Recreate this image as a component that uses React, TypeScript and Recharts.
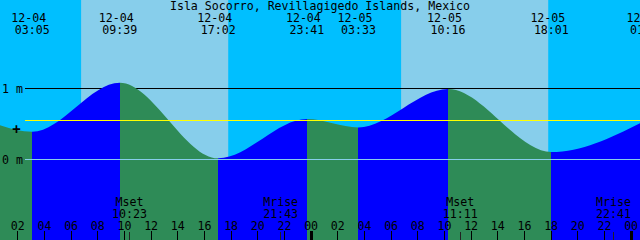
import React from 'react';
import { ComposedChart, Area, XAxis, YAxis, ReferenceArea, ReferenceLine } from 'recharts';

const TITLE = 'Isla Socorro, Revillagigedo Islands, Mexico';

// tide extremes (local time "MM-DD HH:MM") and heights in metres
const tideTimes = [
  '12-03 23:00',
  '12-04 03:05',
  '12-04 09:39',
  '12-04 17:02',
  '12-04 23:41',
  '12-05 03:33',
  '12-05 10:16',
  '12-05 18:01',
  '12-06 01:14',
];
const tideHeights = [0.6, 0.385, 1.075, 0.01, 0.563, 0.446, 0.986, 0.099, 0.56];
const labelledExtremes = [false, true, true, true, true, true, true, true, true];

const sunrises = ['12-04 06:45', '12-05 06:45'];
const sunsets = ['12-04 17:47', '12-05 17:47'];

const moonEvents = ['Mset', 'Mrise', 'Mset', 'Mrise'];
const moonTimes = ['12-04 10:23', '12-04 21:43', '12-05 11:11', '12-05 22:41'];

const hourTicks = [2, 4, 6, 8, 10, 12, 14, 16, 18, 20, 22, 24, 26, 28, 30, 32, 34, 36, 38, 40, 42, 44, 46, 48];
const viewStart = '12-04 00:40';
const viewEnd = '12-06 00:40';
const depthDomain = [-1.14, 2.24];
const depthMarks = [1, 0];
const depthLabels = ['1 m', '0 m'];
const meanLevel = 0.55;
const plusLevel = 0.42;

const NIGHT = '#00BFFF';
const DAY = '#87CEEB';
const RISE = '#0000FF';
const FALL = '#2E8B57';
const FONT = { fontFamily: '"DejaVu Sans Mono", monospace', fontSize: 11.6, fill: '#000' };

const toHours = (s: string) => {
  const [md, hm] = s.split(' ');
  const day = parseInt(md.split('-')[1], 10);
  const [h, m] = hm.split(':').map((v) => parseInt(v, 10));
  return (day - 4) * 24 + h + m / 60;
};

const data = tideTimes.map((s, i) => ({ t: toHours(s), h: tideHeights[i] }));
const tFirst = data[0].t;
const tLast = data[data.length - 1].t;

const gradientStops: { offset: number; color: string }[] = [];
for (let i = 0; i < data.length - 1; i++) {
  const color = data[i + 1].h > data[i].h ? RISE : FALL;
  gradientStops.push({ offset: (data[i].t - tFirst) / (tLast - tFirst), color });
  gradientStops.push({ offset: (data[i + 1].t - tFirst) / (tLast - tFirst), color });
}

const HourTick = (props: any) => {
  const { x, payload } = props;
  const v = payload.value as number;
  const hh = String(v % 24).padStart(2, '0');
  const midnight = v % 24 === 0;
  return (
    <g>
      <line
        x1={x}
        x2={x}
        y1={231}
        y2={240}
        stroke="#000"
        strokeWidth={midnight ? 3 : 1}
        shapeRendering="crispEdges"
      />
      <text x={x} y={230} textAnchor="middle" style={FONT}>
        {hh}
      </text>
    </g>
  );
};

const ExtremeLabel = ({ viewBox, stamp }: any) => {
  const x = viewBox.x;
  const [date, time] = stamp.split(' ');
  return (
    <g>
      <text x={x - 3.5} y={22} textAnchor="middle" style={FONT}>
        {date}
      </text>
      <text x={x} y={34} textAnchor="middle" style={FONT}>
        {time}
      </text>
    </g>
  );
};

const MoonLabel = ({ viewBox, name, stamp }: any) => {
  const x = viewBox.x;
  const time = stamp.split(' ')[1];
  return (
    <g>
      <text x={x} y={206} textAnchor="middle" style={FONT}>
        {name}
      </text>
      <text x={x} y={218} textAnchor="middle" style={FONT}>
        {time}
      </text>
      <line x1={x} x2={x} y1={232} y2={240} stroke="#222" strokeWidth={1} shapeRendering="crispEdges" />
    </g>
  );
};

const DepthLabel = ({ viewBox, text }: any) => (
  <text x={2} y={viewBox.y + 4.5} style={FONT}>
    {text}
  </text>
);

const lineFrom25 = (color: string) => (p: any) => (
  <line x1={25} x2={p.x2} y1={p.y1} y2={p.y2} stroke={color} strokeWidth={1} shapeRendering="crispEdges" />
);

export default function App() {
  return (
    <div style={{ position: 'absolute', left: 0, top: 0, width: 640, height: 240, background: NIGHT }}>
      <ComposedChart width={640} height={240} data={data} margin={{ top: 0, right: 0, bottom: 0, left: 0 }}>
        <defs>
          <linearGradient id="tideFill" x1="0" y1="0" x2="1" y2="0">
            {gradientStops.map((s, i) => (
              <stop key={i} offset={s.offset} stopColor={s.color} stopOpacity={1} />
            ))}
          </linearGradient>
        </defs>
        <XAxis
          type="number"
          dataKey="t"
          domain={[toHours(viewStart), toHours(viewEnd)]}
          allowDataOverflow
          ticks={hourTicks}
          interval={0}
          tick={<HourTick />}
          tickLine={false}
          axisLine={false}
          orientation="bottom"
          mirror
        />
        <YAxis type="number" domain={depthDomain} allowDataOverflow hide />
        {sunrises.map((s, i) => (
          <ReferenceArea
            key={'day' + i}
            x1={toHours(s)}
            x2={toHours(sunsets[i])}
            fill={DAY}
            fillOpacity={1}
            stroke="none"
            ifOverflow="visible"
            zIndex={-200}
          />
        ))}
        <ReferenceLine
          y={depthMarks[0]}
          stroke="#000"
          shape={lineFrom25('#000')}
          zIndex={-150}
          label={(p: any) => <DepthLabel {...p} text={depthLabels[0]} />}
        />
        <Area
          type="monotone"
          dataKey="h"
          stroke="none"
          fill="url(#tideFill)"
          fillOpacity={1}
          baseValue="dataMin"
          isAnimationActive={false}
          dot={false}
          activeDot={false}
        />
        <ReferenceLine
          y={depthMarks[1]}
          stroke={DAY}
          shape={lineFrom25(DAY)}
          zIndex={600}
          label={(p: any) => <DepthLabel {...p} text={depthLabels[1]} />}
        />
        <ReferenceLine y={meanLevel} stroke="#FFFF00" shape={lineFrom25('#FFFF00')} zIndex={600} />
        <ReferenceLine
          y={plusLevel}
          stroke="none"
          zIndex={600}
          label={(p: any) => (
            <text
              x={16.5}
              y={p.viewBox.y + 5}
              textAnchor="middle"
              fill="#000"
              stroke="none"
              style={{ ...FONT, fontSize: 14, fontWeight: 'bold', fill: '#000' }}
            >
              +
            </text>
          )}
        />
        {tideTimes.map((s, i) =>
          labelledExtremes[i] ? (
            <ReferenceLine
              key={'ex' + i}
              x={toHours(s)}
              stroke="none"
              ifOverflow="visible"
              zIndex={600}
              label={(p: any) => <ExtremeLabel {...p} stamp={s} />}
            />
          ) : null
        )}
        {moonTimes.map((s, i) => (
          <ReferenceLine
            key={'moon' + i}
            x={toHours(s)}
            stroke="none"
            ifOverflow="visible"
            zIndex={600}
            label={(p: any) => <MoonLabel {...p} name={moonEvents[i]} stamp={s} />}
          />
        ))}
        <text x={320} y={10} textAnchor="middle" style={FONT}>
          {TITLE}
        </text>
      </ComposedChart>
    </div>
  );
}
